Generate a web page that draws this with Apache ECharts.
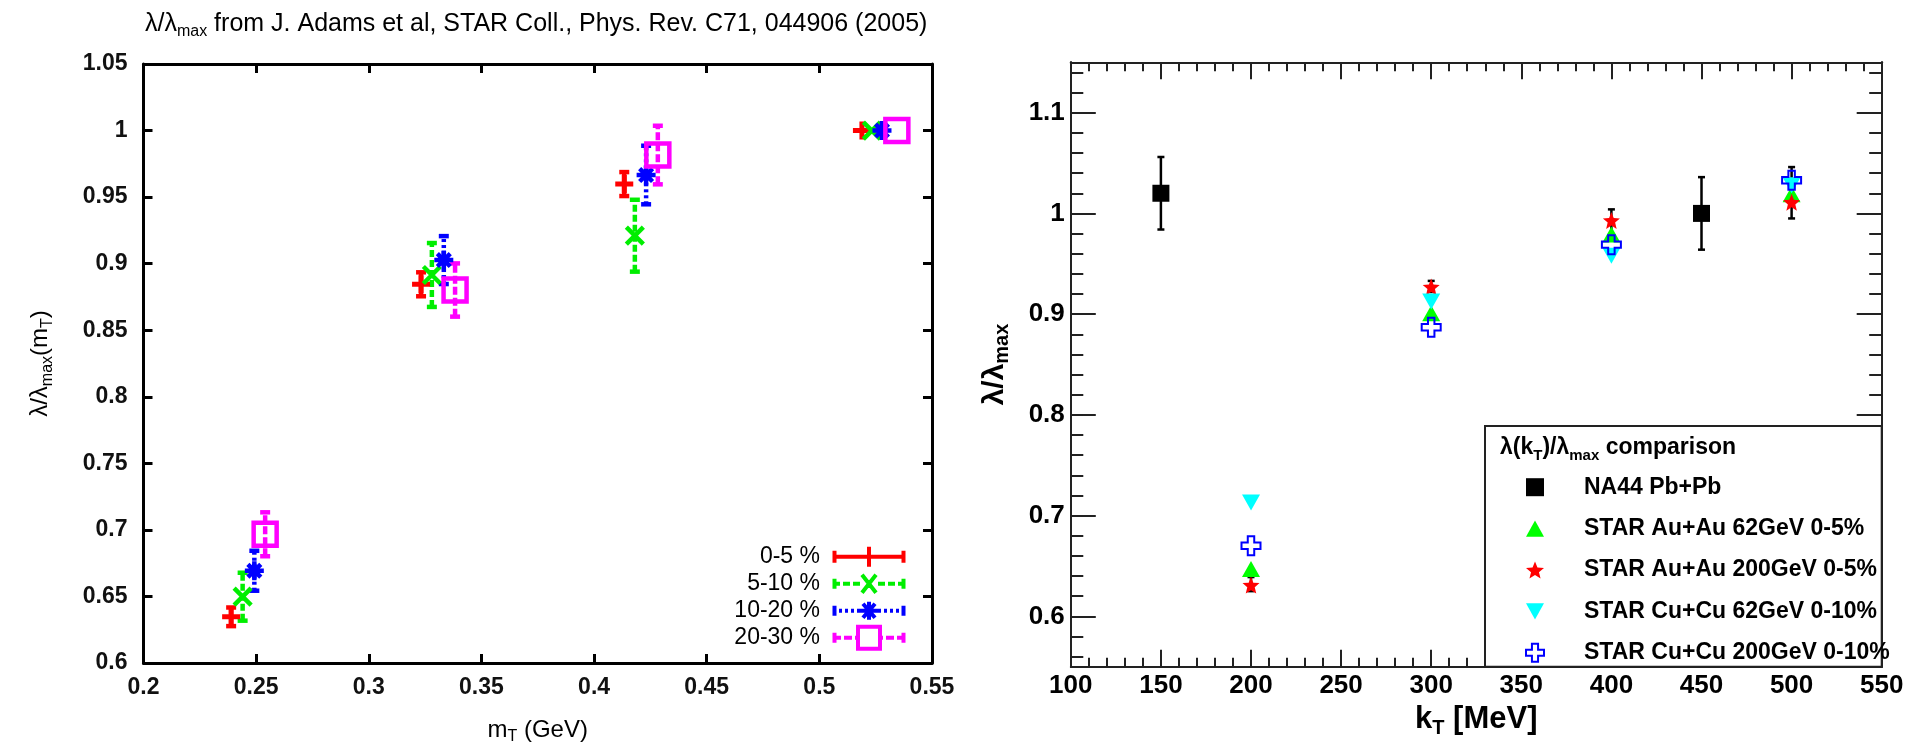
<!DOCTYPE html>
<html><head><meta charset="utf-8">
<script src="https://cdn.jsdelivr.net/npm/echarts@6/dist/echarts.min.js"></script>
<style>html,body{margin:0;padding:0;background:#fff}#c{width:1915px;height:744px}</style>
</head><body><div id="c"></div>
<script>
// ---------- Left panel: lambda/lambda_max vs mT (STAR Au+Au 200 GeV centralities) ----------
const leftNames = ['0-5 %', '5-10 %', '10-20 %', '20-30 %'];
const mT_0_5   = [0.2389, 0.3232, 0.4134, 0.5189];
const lam_0_5  = [0.6347, 0.8845, 0.9598, 1.0];
const err_0_5  = [0.007, 0.009, 0.009, 0];
const mT_5_10  = [0.2440, 0.3280, 0.4181, 0.5233];
const lam_5_10 = [0.6498, 0.8915, 0.9210, 1.0];
const err_5_10 = [0.018, 0.024, 0.027, 0];
const mT_10_20  = [0.2492, 0.3333, 0.4231, 0.5278];
const lam_10_20 = [0.6693, 0.9027, 0.9666, 1.0];
const err_10_20 = [0.015, 0.018, 0.022, 0];
const mT_20_30  = [0.2540, 0.3383, 0.4283, 0.5344];
const lam_20_30 = [0.6967, 0.8802, 0.9816, 1.0];
const err_20_30 = [0.0165, 0.020, 0.022, 0];
const leftXRange = [0.2, 0.55], leftXStep = 0.05;
const leftYRange = [0.6, 1.05], leftYStep = 0.05;

// ---------- Right panel: lambda(kT)/lambda_max comparison ----------
const rightNames = ['NA44 Pb+Pb', 'STAR Au+Au 62GeV 0-5%', 'STAR Au+Au 200GeV 0-5%', 'STAR Cu+Cu 62GeV 0-10%', 'STAR Cu+Cu 200GeV 0-10%'];
const kT_NA44  = [150, 450];
const lam_NA44 = [1.020, 1.000];
const err_NA44 = [0.036, 0.036];
const kT_STAR = [200, 300, 400, 500];
const lam_AuAu62  = [0.647, 0.901, 0.979, 1.019];
const lam_AuAu200 = [0.631, 0.927, 0.993, 1.011];
const errLo_AuAu200 = [0.625, 0.922, 0.979, 0.995];
const errHi_AuAu200 = [0.639, 0.933, 1.004, 1.046];
const lam_CuCu62  = [0.713, 0.9125, 0.958, 1.028];
const lam_CuCu200 = [0.670, 0.887, 0.969, 1.033];
const rightXRange = [100, 550], rightXStep = 50;
const rightYRange = [0.55, 1.15];
const rightYMajorTicks = [0.6, 0.7, 0.8, 0.9, 1.0, 1.1];
const rightYMinorTicks = [0.56,0.58,0.6,0.62,0.64,0.66,0.68,0.7,0.72,0.74,0.76,0.78,0.8,0.82,0.84,0.86,0.88,0.9,0.92,0.94,0.96,0.98,1.0,1.02,1.04,1.06,1.08,1.1,1.12,1.14];

// ---------- helpers ----------
const FF = 'Liberation Sans, Arial, Helvetica, sans-serif';
const zip = (xs, ys) => xs.map((x, i) => [x, ys[i]]);
const errSym = (xs, ys, es) => xs.map((x, i) => [x, ys[i] - es[i], ys[i] + es[i]]);
const errLH = (xs, lo, hi) => xs.map((x, i) => [x, lo[i], hi[i]]);
function errBars(color, width, capHalf, dash) {
  return function (params, api) {
    const x = api.value(0), lo = api.value(1), hi = api.value(2);
    if (!(hi - lo > 0)) return null;
    const a = api.coord([x, lo]), b = api.coord([x, hi]);
    const solid = {stroke: color, lineWidth: width, fill: null};
    const body = {stroke: color, lineWidth: width, fill: null, lineDash: dash || null};
    return {type: 'group', children: [
      {type: 'line', shape: {x1: a[0], y1: a[1], x2: b[0], y2: b[1]}, style: body},
      {type: 'line', shape: {x1: a[0] - capHalf, y1: a[1], x2: a[0] + capHalf, y2: a[1]}, style: solid},
      {type: 'line', shape: {x1: b[0] - capHalf, y1: b[1], x2: b[0] + capHalf, y2: b[1]}, style: solid}
    ]};
  };
}
const PLUS = 'path://M0,5L10,5M5,0L5,10';
const CROSSX = 'path://M0,0L10,10M0,10L10,0';
const ASTER = 'path://M5,0L5,10M0,5L10,5M1.6,1.6L8.4,8.4M1.6,8.4L8.4,1.6';
const SQUARE = 'path://M0,0L10,0L10,10L0,10Z';
const STAR = 'path://M50,0L62.9,32.2L97.6,34.5L70.9,56.8L79.4,90.5L50,72L20.6,90.5L29.1,56.8L2.4,34.5L37.1,32.2Z';
const INVTRI = 'path://M0,0L20,0L10,18Z';
const TRI = 'path://M10,0L20,18L0,18Z';
const OPENCROSS = 'path://M3.3,0L6.7,0L6.7,3.3L10,3.3L10,6.7L6.7,6.7L6.7,10L3.3,10L3.3,6.7L0,6.7L0,3.3L3.3,3.3Z';

// legend sample icons (72 x 24 boxes) for left panel
const LEG_RED = 'path://M0,0M72,24M0,12L72,12M1.5,6L1.5,18M70.5,6L70.5,18M36,2L36,22M27,12L45,12';
const LEG_GREEN = 'path://M0,0M72,24M0,12L7,12M10,12L17,12M20,12L27,12M45,12L52,12M55,12L62,12M65,12L72,12M1.5,7L1.5,17M70.5,7L70.5,17M29,3L43,21M29,21L43,3';
const LEG_BLUE = 'path://M0,0M72,24M0,12L3,12M6,12L9,12M12,12L15,12M18,12L21,12M24,12L27,12M45,12L48,12M51,12L54,12M57,12L60,12M63,12L66,12M69,12L72,12M1.5,7L1.5,17M70.5,7L70.5,17M36,3L36,21M27,12L45,12M30,5L42,19M30,19L42,5';
const LEG_MAG = 'path://M0,0M72,24M0,12L8,12M11,12L19,12M22,12L25,12M47,12L50,12M53,12L61,12M64,12L72,12M1.5,7L1.5,17M70.5,7L70.5,17M25,1L47,1L47,23L25,23Z';

const leftColors = ['#ff0000', '#00ee00', '#0000ff', '#ff00ff'];
const leftDash = [null, [7, 3], [3, 3], [8, 3]];
const leftX = [mT_0_5, mT_5_10, mT_10_20, mT_20_30];
const leftY = [lam_0_5, lam_5_10, lam_10_20, lam_20_30];
const leftE = [err_0_5, err_5_10, err_10_20, err_20_30];
const leftSym = [PLUS, CROSSX, ASTER, SQUARE];
const leftSymSize = [18, 17, 19, 23];
const leftSymW = [5, 4.5, 4.5, 4.5];
const leftLegIcons = [LEG_RED, LEG_GREEN, LEG_BLUE, LEG_MAG];

const fmt2 = v => String(Math.round(v * 100) / 100);
const leftAxisLine = {show: true, onZero: false, lineStyle: {color: '#000', width: 3}};
const leftTick = {show: true, inside: true, length: 9, lineStyle: {color: '#000', width: 3}};
const leftLabel = {fontSize: 23, fontWeight: 'bold', color: '#111', fontFamily: FF, formatter: fmt2};
const rAxisLine = {show: true, onZero: false, lineStyle: {color: '#222', width: 2}};
const rLabel = {fontSize: 26, fontWeight: 'bold', color: '#000', fontFamily: FF};

const series = [];
for (let i = 0; i < 4; i++) {
  series.push({type: 'custom', name: leftNames[i] + ' err', xAxisIndex: 0, yAxisIndex: 0, silent: true,
    renderItem: errBars(leftColors[i], 4.5, 5, leftDash[i]), encode: {x: 0, y: [1, 2]},
    data: errSym(leftX[i], leftY[i], leftE[i])});
  series.push({type: 'scatter', name: leftNames[i], xAxisIndex: 0, yAxisIndex: 0, silent: true,
    symbol: leftSym[i], symbolSize: leftSymSize[i],
    itemStyle: {color: 'rgba(0,0,0,0)', borderColor: leftColors[i], borderWidth: leftSymW[i], opacity: 1},
    data: zip(leftX[i], leftY[i])});
}
// right panel
series.push({type: 'custom', name: 'NA44 err', xAxisIndex: 2, yAxisIndex: 2, silent: true,
  renderItem: errBars('#000', 2.5, 3.5, null), encode: {x: 0, y: [1, 2]}, data: errSym(kT_NA44, lam_NA44, err_NA44)});
series.push({type: 'custom', name: 'AuAu200 err', xAxisIndex: 2, yAxisIndex: 2, silent: true,
  renderItem: errBars('#000', 2.5, 3.5, null), encode: {x: 0, y: [1, 2]}, data: errLH(kT_STAR, errLo_AuAu200, errHi_AuAu200)});
series.push({type: 'scatter', name: rightNames[0], xAxisIndex: 2, yAxisIndex: 2, silent: true,
  symbol: 'rect', symbolSize: 17, itemStyle: {color: '#000', opacity: 1}, data: zip(kT_NA44, lam_NA44)});
series.push({type: 'scatter', name: rightNames[1], xAxisIndex: 2, yAxisIndex: 2, silent: true,
  symbol: TRI, symbolSize: [18, 16], itemStyle: {color: '#00ff00', opacity: 1}, data: zip(kT_STAR, lam_AuAu62)});
series.push({type: 'scatter', name: rightNames[2], xAxisIndex: 2, yAxisIndex: 2, silent: true,
  symbol: STAR, symbolSize: 17, itemStyle: {color: '#ff0000', opacity: 1}, data: zip(kT_STAR, lam_AuAu200)});
series.push({type: 'scatter', name: rightNames[3], xAxisIndex: 2, yAxisIndex: 2, silent: true,
  symbol: INVTRI, symbolSize: [18, 16], itemStyle: {color: '#00ffff', opacity: 1}, data: zip(kT_STAR, lam_CuCu62)});
series.push({type: 'scatter', name: rightNames[4], xAxisIndex: 2, yAxisIndex: 2, silent: true,
  symbol: OPENCROSS, symbolSize: 19, itemStyle: {color: 'rgba(0,0,0,0)', borderColor: '#0000ff', borderWidth: 2, opacity: 1},
  data: zip(kT_STAR, lam_CuCu200)});

const subRich = (base, sub, pad, bold) => ({
  a: {fontSize: base, fontFamily: FF, color: '#000', fontWeight: bold ? 'bold' : 'normal'},
  s: {fontSize: sub, fontFamily: FF, color: '#000', fontWeight: bold ? 'bold' : 'normal', padding: [pad, 0, 0, 0]}
});

const option = {
  animation: false,
  backgroundColor: '#fff',
  title: [
    {text: '{a|λ/λ}{s|max}{a| from J. Adams et al, STAR Coll., Phys. Rev. C71, 044906 (2005)}',
     left: 140, top: 4, textStyle: {rich: subRich(25, 16, 15, false)}},
    {text: '{a|λ(k}{s|T}{a|)/λ}{s|max}{a| comparison}', left: 1495, top: 428, z: 6,
     textStyle: {rich: subRich(23, 15, 15, true)}}
  ],
  grid: [
    {left: 143.5, top: 64, width: 788.5, height: 599, containLabel: false, outerBoundsMode: 'none'},
    {left: 1070.8, top: 62.3, width: 810.9, height: 604.4, containLabel: false, outerBoundsMode: 'none'}
  ],
  xAxis: [
    {gridIndex: 0, type: 'value', position: 'bottom', min: leftXRange[0], max: leftXRange[1], interval: leftXStep,
     axisLine: leftAxisLine, axisTick: leftTick, axisLabel: Object.assign({margin: 13}, leftLabel), splitLine: {show: false},
     name: '{a|m}{s|T}{a| (GeV)}', nameLocation: 'middle', nameGap: 52, nameTextStyle: {rich: subRich(24, 16, 14, false)}},
    {gridIndex: 0, type: 'value', position: 'top', min: leftXRange[0], max: leftXRange[1], interval: leftXStep,
     axisLine: leftAxisLine, axisTick: leftTick, axisLabel: {show: false}, splitLine: {show: false}},
    {gridIndex: 1, type: 'value', position: 'bottom', min: rightXRange[0], max: rightXRange[1], interval: rightXStep,
     axisLine: rAxisLine, axisTick: {show: true, inside: true, length: 17, lineStyle: {color: '#222', width: 2}},
     minorTick: {show: true, splitNumber: 5, length: 9, lineStyle: {color: '#222', width: 2}},
     axisLabel: Object.assign({margin: 6}, rLabel), splitLine: {show: false}, minorSplitLine: {show: false},
     name: '{a|k}{s|T}{a| [MeV]}', nameLocation: 'middle', nameGap: 31, nameTextStyle: {rich: subRich(31, 20, 18, true)}},
    {gridIndex: 1, type: 'value', position: 'top', min: rightXRange[0], max: rightXRange[1], interval: rightXStep,
     axisLine: rAxisLine, axisTick: {show: true, inside: true, length: 17, lineStyle: {color: '#222', width: 2}},
     minorTick: {show: true, splitNumber: 5, length: 9, lineStyle: {color: '#222', width: 2}},
     axisLabel: {show: false}, splitLine: {show: false}, minorSplitLine: {show: false}}
  ],
  yAxis: [
    {gridIndex: 0, type: 'value', position: 'left', min: leftYRange[0], max: leftYRange[1], interval: leftYStep,
     axisLine: leftAxisLine, axisTick: leftTick, axisLabel: Object.assign({margin: 16}, leftLabel), splitLine: {show: false},
     name: '{a|λ/λ}{s|max}{a|(m}{s|T}{a|)}', nameLocation: 'middle', nameGap: 88, nameTextStyle: {rich: subRich(24, 16, 14, false)}},
    {gridIndex: 0, type: 'value', position: 'right', min: leftYRange[0], max: leftYRange[1], interval: leftYStep,
     axisLine: leftAxisLine, axisTick: leftTick, axisLabel: {show: false}, splitLine: {show: false}},
    {gridIndex: 1, type: 'value', position: 'left', offset: 0, min: rightYRange[0], max: rightYRange[1],
     axisLine: rAxisLine, axisTick: {show: true, inside: true, length: 25, customValues: rightYMajorTicks, lineStyle: {color: '#222', width: 2}},
     axisLabel: Object.assign({margin: 6, customValues: rightYMajorTicks}, rLabel), splitLine: {show: false},
     name: '{a|λ/λ}{s|max}', nameLocation: 'middle', nameGap: 58, nameTextStyle: {rich: subRich(30, 20, 16, true)}},
    {gridIndex: 1, type: 'value', position: 'left', offset: 0, min: rightYRange[0], max: rightYRange[1],
     axisLine: rAxisLine, axisTick: {show: true, inside: true, length: 12.5, customValues: rightYMinorTicks, lineStyle: {color: '#222', width: 2}},
     axisLabel: {show: false}, splitLine: {show: false}},
    {gridIndex: 1, type: 'value', position: 'right', offset: 0, min: rightYRange[0], max: rightYRange[1],
     axisLine: rAxisLine, axisTick: {show: true, inside: true, length: 25, customValues: rightYMajorTicks, lineStyle: {color: '#222', width: 2}},
     axisLabel: {show: false}, splitLine: {show: false}},
    {gridIndex: 1, type: 'value', position: 'right', offset: 0, min: rightYRange[0], max: rightYRange[1],
     axisLine: rAxisLine, axisTick: {show: true, inside: true, length: 12.5, customValues: rightYMinorTicks, lineStyle: {color: '#222', width: 2}},
     axisLabel: {show: false}, splitLine: {show: false}}
  ],
  legend: [
    {orient: 'vertical', right: 1008, top: 542.7, align: 'right', itemWidth: 72, itemHeight: 24, itemGap: -1,
     selectedMode: false, padding: 0,
     textStyle: {fontSize: 23, lineHeight: 24, fontFamily: FF, color: '#000', padding: [0, 8, 0, 0]},
     data: leftNames.map((n, i) => ({name: n, icon: leftLegIcons[i],
       itemStyle: {color: 'rgba(0,0,0,0)', borderColor: leftColors[i], borderWidth: 4}}))},
    {orient: 'vertical', left: 1525, top: 475.7, align: 'left', itemWidth: 18, itemHeight: 18, itemGap: 18.4,
     selectedMode: false, padding: 0, z: 6,
     textStyle: {fontSize: 23, lineHeight: 22, fontWeight: 'bold', fontFamily: FF, color: '#000', padding: [0, 0, 0, 35]},
     data: [
       {name: rightNames[0], icon: 'rect'},
       {name: rightNames[1], icon: TRI},
       {name: rightNames[2], icon: STAR},
       {name: rightNames[3], icon: INVTRI},
       {name: rightNames[4], icon: OPENCROSS}
     ]}
  ],
  graphic: [
    {type: 'rect', z: 3, shape: {x: 1485, y: 426, width: 396.7, height: 240.7},
     style: {fill: '#fff', stroke: '#222', lineWidth: 2}}
  ],
  series: series
};
const chart = echarts.init(document.getElementById('c'), null, {renderer: 'canvas'});
chart.setOption(option);
</script></body></html>
